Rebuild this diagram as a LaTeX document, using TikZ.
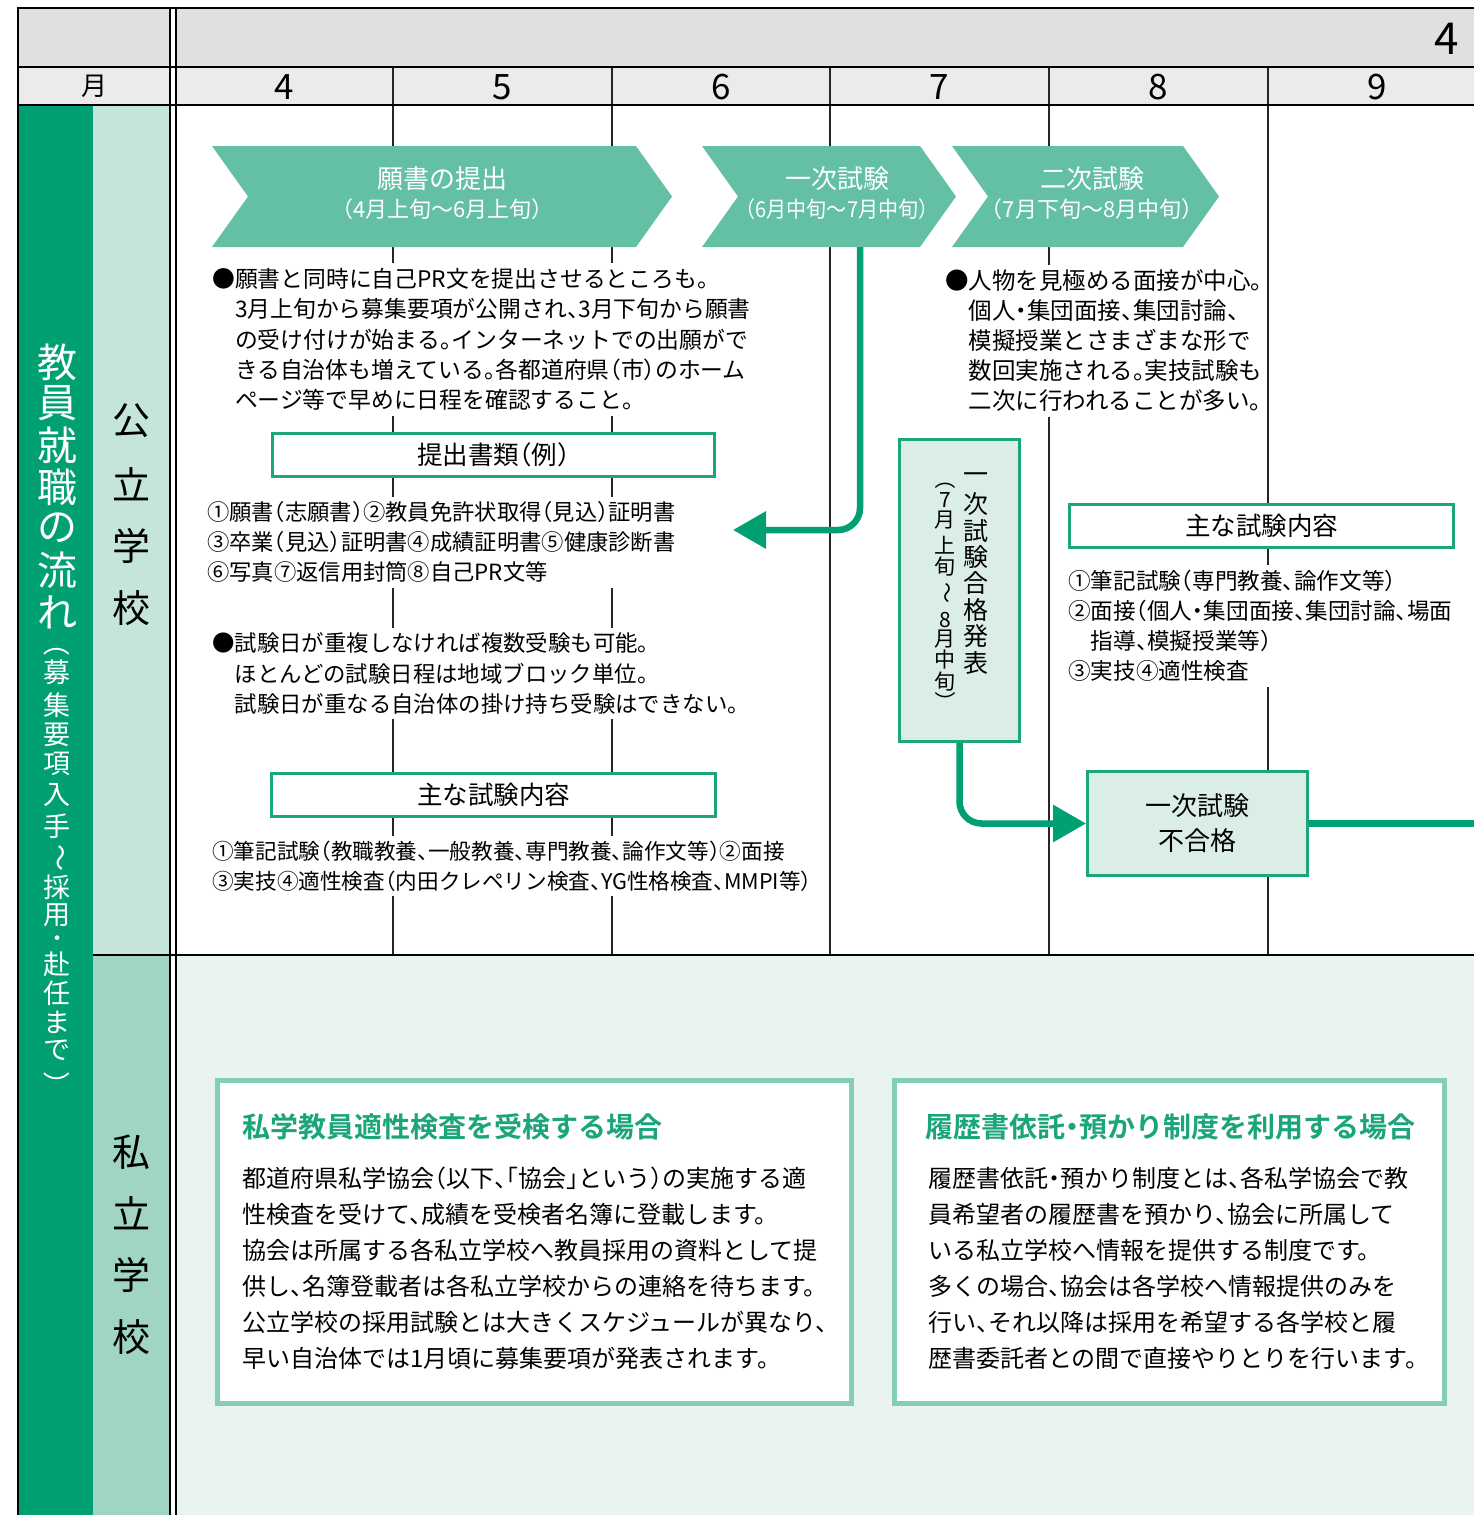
\documentclass[tikz,border=0pt]{standalone}
\usepackage{fontspec}
\setmainfont{Noto Sans CJK JP}[RawFeature=+halt, BoldFont={Noto Sans CJK JP Bold}]
\usetikzlibrary{arrows.meta}
\definecolor{darkg}{HTML}{00A073}
\definecolor{pubg}{HTML}{C5E5DA}
\definecolor{privg}{HTML}{A0D5C3}
\definecolor{privbg}{HTML}{E9F3EF}
\definecolor{chevc}{HTML}{64C0A5}
\definecolor{boxg}{HTML}{1BA77B}
\definecolor{lightfill}{HTML}{DAEEE6}
\definecolor{bborder}{HTML}{84CEB4}
\definecolor{titleg}{HTML}{1BA57A}
\definecolor{hdrA}{HTML}{E0E0E0}
\definecolor{hdrB}{HTML}{EBEBEB}
\newcommand\fsz[2]{\fontsize{#1pt}{#2pt}\selectfont}
\begin{document}
\begin{tikzpicture}[x=1pt,y=-1pt,
  every node/.style={inner sep=0pt},
  frame/.style={line width=2.5pt, black},
  dblline/.style={line width=2pt, black},
  mline/.style={line width=2.2pt, black!85},
  mnum/.style={font=\fsz{35}{35}},
  chev/.style={fill=chevc},
  ctitle/.style={text=white, font=\fsz{26}{26}},
  csub/.style={text=white, font=\fsz{22}{22}},
  txt/.style={anchor=west, align=left, fill=white, inner xsep=3pt, inner ysep=5pt},
  hbox/.style={draw=boxg, line width=3pt, fill=white, font=\fsz{25.5}{25.5}},
  lbox/.style={draw=boxg, line width=3pt, fill=lightfill},
  bbox/.style={draw=bborder, line width=5pt, fill=white},
  btitle/.style={anchor=west, text=titleg, font=\bfseries\fsz{28}{28}},
  btext/.style={anchor=west, align=left, font=\fsz{24}{36}},
  garrow/.style={draw=darkg, line width=6.5pt, rounded corners=22pt, -{Triangle[length=33pt,width=36pt]}},
  gline/.style={draw=darkg, line width=6.5pt},
  vbig/.style={text=white, font=\fsz{40}{40}},
  vsmall/.style={text=white, font=\fsz{27}{27}},
  vlab/.style={font=\fsz{38}{38}},
  vcA/.style={font=\fsz{25}{25}},
  vcB/.style={font=\fsz{21}{21}}]
\useasboundingbox (0,0) rectangle (1474,1515);
\clip (0,0) rectangle (1474,1515);
% backgrounds
\fill[white] (0,0) rectangle (1474,1515);
\fill[hdrA] (18,8) rectangle (169,67);
\fill[hdrA] (175,8) rectangle (1474,67);
\fill[hdrB] (18,67) rectangle (169,105);
\fill[hdrB] (175,67) rectangle (1474,105);
\fill[darkg] (18,105) rectangle (93,1515);
\fill[pubg] (93,105) rectangle (169,955);
\fill[privg] (93,955) rectangle (169,1515);
\fill[privbg] (175,955) rectangle (1474,1515);
% grid lines
\foreach \mx in {393,612,830,1049,1268} \draw[mline] (\mx,67) -- (\mx,955);
\draw[frame] (18,1515) -- (18,8) -- (1474,8);
\draw[frame] (18,67) -- (1474,67);
\draw[frame] (18,105) -- (1474,105);
\draw[line width=2pt] (93,955) -- (1474,955);
\draw[dblline] (169.5,8) -- (169.5,1515);
\draw[dblline] (175.5,8) -- (175.5,1515);
% header texts
\node[font=\fsz{44}{44}] (yr) at (1447,39) {4};
\node[font=\fsz{26}{26}] (tsuki) at (94,86) {月};
\node[mnum] (m4) at (284,87) {4};
\node[mnum] (m5) at (502,87) {5};
\node[mnum] (m6) at (721,87) {6};
\node[mnum] (m7) at (939,87) {7};
\node[mnum] (m8) at (1158,87) {8};
\node[mnum] (m9) at (1377,87) {9};
% left vertical labels
\foreach \ch/\yy [count=\i] in {教/362,員/403,就/445,職/487,の/528,流/570,れ/612}
  \node[vbig] (lt\i) at (57,\yy) {\ch};
\node[vsmall, rotate=-90] (lp1) at (57,650) {（};
\foreach \ch/\yy [count=\i] in {募/672,集/705,要/735,項/764,入/795,手/826}
  \node[vsmall] (ls\i) at (57,\yy) {\ch};
\node[vsmall, rotate=-90] (lwave) at (57,858) {～};
\foreach \ch/\yy [count=\i] in {採/887,用/915}
  \node[vsmall] (lu\i) at (57,\yy) {\ch};
\node[text=white, font=\fsz{22}{22}] (ldot) at (57,941) {・};
\foreach \ch/\yy [count=\i] in {赴/964,任/993,ま/1022,で/1050}
  \node[vsmall] (lv\i) at (57,\yy) {\ch};
\node[vsmall, rotate=-90] (lp2) at (57,1078) {）};
\foreach \ch/\yy [count=\i] in {公/421,立/484,学/546,校/608}
  \node[vlab] (pub\i) at (131,\yy) {\ch};
\foreach \ch/\yy [count=\i] in {私/1152,立/1213,学/1275,校/1337}
  \node[vlab] (pri\i) at (131,\yy) {\ch};
% chevrons
\fill[chev] (212,146) -- (636,146) -- (672,196.5) -- (636,247) -- (212,247) -- (248,196.5) -- cycle;
\fill[chev] (702,146) -- (920,146) -- (956,196.5) -- (920,247) -- (702,247) -- (738,196.5) -- cycle;
\fill[chev] (952,146) -- (1183,146) -- (1219,196.5) -- (1183,247) -- (952,247) -- (988,196.5) -- cycle;
\node[ctitle] (c1t) at (442.5,179) {願書の提出};
\node[csub] (c1s) at (442.5,209) {（4月上旬～6月上旬）};
\node[ctitle] (c2t) at (837,179) {一次試験};
\node[csub] (c2s) at (837,209) {\scalebox{0.91}[1]{（6月中旬～7月中旬）}};
\node[ctitle] (c3t) at (1092,179) {二次試験};
\node[csub] (c3s) at (1092,209) {（7月下旬～8月中旬）};
\coordinate (c2b) at (860,247);
% text blocks public
\node[txt, font=\fsz{22.8}{30.25}] (b1) at (209,339.5) {●願書と同時に自己PR文を提出させるところも。\\%
\phantom{●}3月上旬から募集要項が公開され、3月下旬から願書\\%
\phantom{●}の受け付けが始まる。インターネットでの出願がで\\%
\phantom{●}きる自治体も増えている。各都道府県（市）のホーム\\%
\phantom{●}ページ等で早めに日程を確認すること。};
\node[hbox, minimum width=442pt, minimum height=43pt] (sub1) at (493.5,454.5) {提出書類（例）};
\node[txt, font=\fsz{22.3}{30}] (b2) at (204,542) {①願書（志願書）②教員免許状取得（見込）証明書\\%
③卒業（見込）証明書④成績証明書⑤健康診断書\\%
⑥写真⑦返信用封筒⑧自己PR文等};
\node[txt, font=\fsz{22.4}{30.5}] (b3) at (209,673.5) {●試験日が重複しなければ複数受験も可能。\\%
\phantom{●}ほとんどの試験日程は地域ブロック単位。\\%
\phantom{●}試験日が重なる自治体の掛け持ち受験はできない。};
\node[hbox, minimum width=444pt, minimum height=43pt] (sub2) at (493.5,795) {主な試験内容};
\node[txt, font=\fsz{21.6}{30}] (b4) at (209,866) {①筆記試験（教職教養、一般教養、専門教養、論作文等）②面接\\%
③実技④適性検査（内田クレペリン検査、YG性格検査、MMPI等）};
\node[txt, font=\fsz{23.5}{30}] (b6) at (942,341) {●人物を見極める面接が中心。\\%
\phantom{●}個人・集団面接、集団討論、\\%
\phantom{●}模擬授業とさまざまな形で\\%
\phantom{●}数回実施される。実技試験も\\%
\phantom{●}二次に行われることが多い。};
\node[hbox, minimum width=384pt, minimum height=43pt] (sub3) at (1261.5,526) {主な試験内容};
\node[txt, font=\fsz{22.6}{30.3}] (b5) at (1065,625.75) {①筆記試験（専門教養、論作文等）\\%
②面接（個人・集団面接、集団討論、場面\\%
\phantom{②}指導、模擬授業等）\\%
③実技④適性検査};
% vertical box
\node[lbox, minimum width=120pt, minimum height=302pt] (vbox) at (959.5,590.5) {};
\foreach \ch/\yy [count=\i] in {一/478,次/504.5,試/531,験/557,合/583.5,格/610,発/636,表/662.5}
  \node[vcA] (va\i) at (976,\yy) {\ch};
\node[vcB, rotate=-90] (vp1) at (945,484) {（};
\foreach \ch/\yy [count=\i] in {7/500,月/520,上/545,旬/567}
  \node[vcB] (vb\i) at (945,\yy) {\ch};
\node[vcB, rotate=-90] (vwave) at (945,593) {～};
\foreach \ch/\yy [count=\i] in {8/620,月/639,中/660,旬/682}
  \node[vcB] (vc\i) at (945,\yy) {\ch};
\node[vcB, rotate=-90] (vp2) at (945,697) {）};
% fail box
\node[lbox, minimum width=220pt, minimum height=104pt, align=center, font=\fsz{26}{35}] (fail) at (1197.5,823.5) {一次試験\\不合格};
% arrows
\coordinate (a1tip) at (733,530);
\draw[garrow] (c2b) |- (a1tip);
\draw[garrow] (vbox.south) |- (fail.west);
\coordinate (redge) at (1480,823.5);
\draw[gline] (fail.east) -- (redge);
% private boxes
\node[bbox, minimum width=634pt, minimum height=323pt] (pb1) at (534.5,1242) {};
\node[btitle] (pb1t) at (242,1127) {私学教員適性検査を受検する場合};
\node[btext] (pb1b) at (242,1268) {都道府県私学協会（以下、「協会」という）の実施する適\\%
性検査を受けて、成績を受検者名簿に登載します。\\%
協会は所属する各私立学校へ教員採用の資料として提\\%
供し、名簿登載者は各私立学校からの連絡を待ちます。\\%
公立学校の採用試験とは大きくスケジュールが異なり、\\%
早い自治体では1月頃に募集要項が発表されます。};
\node[bbox, minimum width=550pt, minimum height=323pt] (pb2) at (1169.5,1242) {};
\node[btitle] (pb2t) at (925,1127) {履歴書依託・預かり制度を利用する場合};
\node[btext] (pb2b) at (928,1268) {履歴書依託・預かり制度とは、各私学協会で教\\%
員希望者の履歴書を預かり、協会に所属して\\%
いる私立学校へ情報を提供する制度です。\\%
多くの場合、協会は各学校へ情報提供のみを\\%
行い、それ以降は採用を希望する各学校と履\\%
歴書委託者との間で直接やりとりを行います。};
\end{tikzpicture}
\end{document}
